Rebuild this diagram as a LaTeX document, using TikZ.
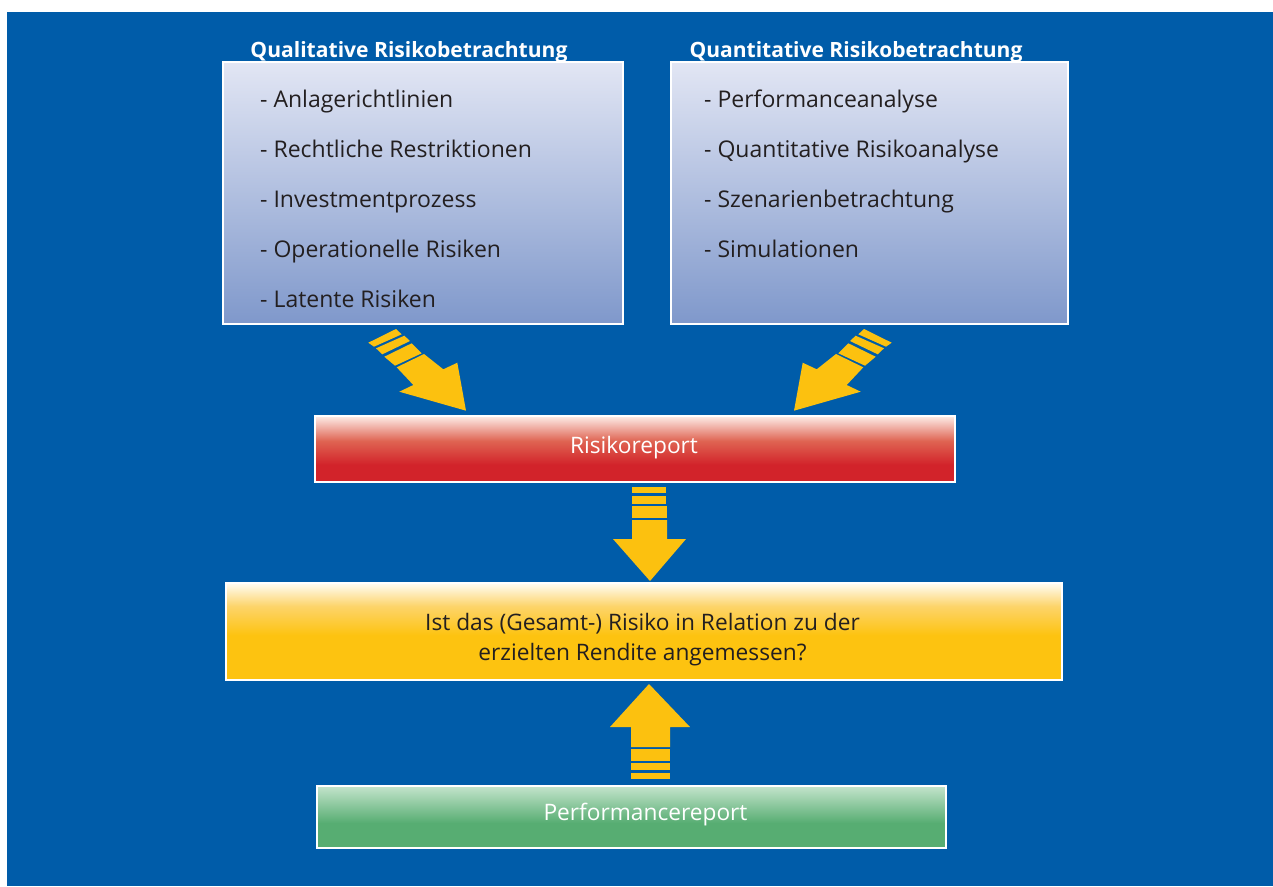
\documentclass[tikz,border=0pt]{standalone}
\usepackage{fontspec}
\setmainfont{Open Sans}
\definecolor{bgblue}{HTML}{005CA9}
\definecolor{arrowyel}{HTML}{FCC10F}
\definecolor{itemtext}{HTML}{231F20}
\definecolor{bluetop}{HTML}{E2E6F4}
\definecolor{bluebot}{HTML}{7F98CB}
\definecolor{redtop}{HTML}{FDEDE8}
\definecolor{redmid}{HTML}{DF6452}
\definecolor{redbot}{HTML}{D2232A}
\definecolor{yeltop}{HTML}{FFFDF5}
\definecolor{yelmid}{HTML}{FDD46A}
\definecolor{yelbot}{HTML}{FDC310}
\definecolor{grntop}{HTML}{C4E4CC}
\definecolor{grnbot}{HTML}{57AD72}
\pgfdeclareverticalshading{bluesh}{100bp}{color(0bp)=(bluebot); color(25bp)=(bluebot); color(75bp)=(bluetop); color(100bp)=(bluetop)}
\pgfdeclareverticalshading{redsh}{100bp}{color(0bp)=(redbot); color(25bp)=(redbot); color(38bp)=(redbot); color(56bp)=(redmid); color(75bp)=(redtop); color(100bp)=(redtop)}
\pgfdeclareverticalshading{yelsh}{100bp}{color(0bp)=(yelbot); color(25bp)=(yelbot); color(48bp)=(yelbot); color(63bp)=(yelmid); color(75bp)=(yeltop); color(100bp)=(yeltop)}
\pgfdeclareverticalshading{grnsh}{100bp}{color(0bp)=(grnbot); color(25bp)=(grnbot); color(45bp)=(grnbot); color(75bp)=(grntop); color(100bp)=(grntop)}
\newcommand\diagarrow{%
  \fill[arrowyel] (368.3,342.7) -- (396,329) -- (401.7,334.3) -- (374,346.7) -- cycle;
  \fill[arrowyel] (376,348.3) -- (404.3,335.7) -- (410,341) -- (382.3,354.3) -- cycle;
  \fill[arrowyel] (384.3,356.7) -- (411.7,343.3) -- (421.7,353.3) -- (395,365.7) -- cycle;
  \fill[arrowyel] (396.7,367.3) -- (424,354) -- (443.3,369.3) -- (457.3,362.7) -- (466,410.7) -- (399.3,391.7) -- (413.3,385) -- cycle;
}
\begin{document}
\begin{tikzpicture}[x=1pt,y=-1pt,
  panel/.style={draw=white, line width=1.8pt, inner sep=0pt, anchor=north west},
  item/.style={anchor=base west, inner sep=0pt, text=itemtext, font=\fontsize{23}{27}\selectfont},
  title/.style={anchor=base, inner sep=0pt, text=white, font=\bfseries\fontsize{23.5}{28}\selectfont},
  label/.style={inner sep=0pt, font=\fontsize{22.7}{30}\selectfont}]
\useasboundingbox (0,0) rectangle (1273,886);
\fill[white] (0,0) rectangle (1273,886);
\fill[bgblue] (7,12) rectangle (1273,886);
% panels
\node[panel, shading=bluesh, minimum width=400pt, minimum height=262pt] (qual) at (222,61) {};
\node[panel, shading=bluesh, minimum width=397pt, minimum height=262pt] (quant) at (670,61) {};
\node[panel, shading=redsh, minimum width=640pt, minimum height=66pt] (risk) at (314,415) {};
\node[panel, shading=yelsh, minimum width=836pt, minimum height=97pt] (quest) at (225,582) {};
\node[panel, shading=grnsh, minimum width=629pt, minimum height=62pt] (perf) at (316,785) {};
% titles
\node[title] (qualt) at (409,57) {\resizebox{317pt}{!}{Qualitative Risikobetrachtung}};
\node[title] (quantt) at (856,57) {\resizebox{333pt}{!}{Quantitative Risikobetrachtung}};
% items
\node[item] (l1) at (260,107.5) {- Anlagerichtlinien};
\node[item] (l2) at (260,157.5) {- Rechtliche Restriktionen};
\node[item] (l3) at (260,207.5) {- Investmentprozess};
\node[item] (l4) at (260,257.5) {- Operationelle Risiken};
\node[item] (l5) at (260,307.5) {- Latente Risiken};
\node[item] (r1) at (704,107.5) {- Performanceanalyse};
\node[item] (r2) at (704,157.5) {- Quantitative Risikoanalyse};
\node[item] (r3) at (704,207.5) {- Szenarienbetrachtung};
\node[item] (r4) at (704,257.5) {- Simulationen};
% labels
\node[label, text=white] (riskt) at (634,447.5) {Risikoreport};
\node[label, text=itemtext, align=center] (questt) at (642.5,640) {Ist das (Gesamt-) Risiko in Relation zu der\\erzielten Rendite angemessen?};
\node[label, text=white] (perft) at (645.5,815) {Performancereport};
% diagonal arrows
\diagarrow
\begin{scope}[shift={(1260,0)}, xscale=-1]
\diagarrow
\end{scope}
% down arrow
\fill[arrowyel] (632,487) rectangle (666,493);
\fill[arrowyel] (632,496) rectangle (666,504);
\fill[arrowyel] (632,506) rectangle (667,518);
\fill[arrowyel] (632,520) -- (667,520) -- (667,539) -- (686,539) -- (650,581) -- (613,539) -- (632,539) -- cycle;
% up arrow
\fill[arrowyel] (649,684) -- (690,727) -- (670,727) -- (670,747) -- (631,747) -- (631,727) -- (610,727) -- cycle;
\fill[arrowyel] (631,749) rectangle (670,761);
\fill[arrowyel] (631,763) rectangle (670,770);
\fill[arrowyel] (631,773) rectangle (670,779);
\end{tikzpicture}
\end{document}
